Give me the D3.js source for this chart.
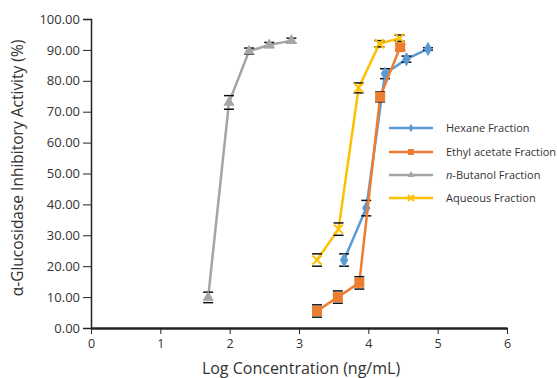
<!DOCTYPE html>
<html><head><meta charset="utf-8">
<script src="https://cdn.jsdelivr.net/npm/d3@7"></script>
<style>body{margin:0;background:#fff}svg{display:block}text{font-family:"Open Sans",sans-serif}</style>
</head><body><svg id="c" width="557" height="378"></svg>
<script>
const seriesNames = ["Hexane Fraction","Ethyl acetate Fraction","n-Butanol Fraction","Aqueous Fraction"];
const colors = ["#5B9BD5","#ED7D31","#A5A5A5","#FFC000"];
const symbols = ["diamond","square","triangle","x"];
const hexaneX = [3.65,3.97,4.24,4.55,4.86];
const hexaneY = [22.0,38.8,82.3,87.0,90.3];
const hexaneErr = [2.0,2.5,1.6,1.0,0.4];
const ethylX = [3.26,3.56,3.87,4.17,4.46];
const ethylY = [5.5,10.0,14.6,74.8,90.9];
const ethylErr = [2.0,2.0,2.0,1.6,1.0];
const butanolX = [1.69,1.99,2.28,2.57,2.89];
const butanolY = [9.9,73.0,89.6,91.6,93.0];
const butanolErr = [1.7,2.2,1.0,0.8,0.8];
const aqueousX = [3.26,3.57,3.86,4.16,4.45];
const aqueousY = [22.0,32.0,77.7,92.0,93.8];
const aqueousErr = [2.0,2.0,1.6,1.0,1.0];
const xTicks = [0,1,2,3,4,5,6];
const yTicks = [0,10,20,30,40,50,60,70,80,90,100];

const series = [
  {x:hexaneX,y:hexaneY,e:hexaneErr},
  {x:ethylX,y:ethylY,e:ethylErr},
  {x:butanolX,y:butanolY,e:butanolErr},
  {x:aqueousX,y:aqueousY,e:aqueousErr}
];

const svg = d3.select("#c");
const x = d3.scaleLinear().domain([0,6]).range([91,507]);
const y = d3.scaleLinear().domain([0,100]).range([328,19]);

// y axis
const ya = svg.append("g").attr("transform","translate(91,0)")
  .call(d3.axisLeft(y).tickValues(yTicks).tickFormat(d3.format(".2f")).tickSize(8).tickPadding(3));
ya.select(".domain").attr("stroke","#222").attr("stroke-width",1.5);
ya.selectAll(".tick line").attr("stroke","#222");
ya.selectAll("text").attr("fill","#333").style("font-size","13px");

// x axis
const xa = svg.append("g").attr("transform","translate(0,328)")
  .call(d3.axisBottom(x).tickValues(xTicks).tickFormat(d3.format("d")).tickSizeInner(6).tickSizeOuter(0).tickPadding(5));
xa.select(".domain").attr("stroke","#222").attr("stroke-width",2.5);
xa.selectAll(".tick line").attr("stroke","#222");
xa.selectAll("text").attr("fill","#333").style("font-size","12.5px");

svg.append("text").attr("x",301).attr("y",374).attr("text-anchor","middle")
  .attr("fill","#333").style("font-size","16px").text("Log Concentration (ng/mL)");
svg.append("text").attr("transform","translate(23,168) rotate(-90)").attr("text-anchor","middle")
  .attr("fill","#333").style("font-size","15.5px").text("α-Glucosidase Inhibitory Activity (%)");

const line = d3.line().x(d=>x(d[0])).y(d=>y(d[1]));

function marker(g, sym, color, size){
  if(sym==="diamond"){
    g.append("path").attr("d",d3.symbol(d3.symbolDiamond, size*size*0.6)()).attr("fill",color);
  } else if(sym==="square"){
    g.append("path").attr("d",d3.symbol(d3.symbolSquare, size*size)()).attr("fill",color);
  } else if(sym==="triangle"){
    g.append("path").attr("d",d3.symbol(d3.symbolTriangle, size*size*0.55)()).attr("fill",color);
  } else {
    const h=size/2;
    g.append("path").attr("d",`M${-h},${-h}L${h},${h}M${-h},${h}L${h},${-h}`)
      .attr("stroke",color).attr("stroke-width",2).attr("fill","none");
  }
}

series.forEach((s,i)=>{
  const pts = s.x.map((v,j)=>[v,s.y[j],s.e[j]]);
  const g = svg.append("g");
  g.append("path").datum(pts).attr("d",line).attr("fill","none")
    .attr("stroke",colors[i]).attr("stroke-width",2.5);
  pts.forEach(p=>{
    const cx=x(p[0]), t=y(p[1]+p[2]), b=y(p[1]-p[2]);
    g.append("line").attr("x1",cx-5).attr("x2",cx+5).attr("y1",t).attr("y2",t).attr("stroke","#111").attr("stroke-width",1.5);
    g.append("line").attr("x1",cx-5).attr("x2",cx+5).attr("y1",b).attr("y2",b).attr("stroke","#111").attr("stroke-width",1.5);
  });
  pts.forEach(p=>{
    const m = g.append("g").attr("transform",`translate(${x(p[0])},${y(p[1])})`);
    marker(m, symbols[i], colors[i], i===3?9:10);
  });
});

// legend
const legY = [128,152,175,198];
seriesNames.forEach((n,i)=>{
  const g = svg.append("g");
  g.append("line").attr("x1",389).attr("x2",433).attr("y1",legY[i]).attr("y2",legY[i])
    .attr("stroke",colors[i]).attr("stroke-width",2.5);
  const m = g.append("g").attr("transform",`translate(411,${legY[i]})`);
  marker(m, symbols[i], colors[i], 6);
  const t = g.append("text").attr("x",446).attr("y",legY[i]+4).attr("fill","#333").style("font-size","11px");
  if(i===2){
    t.append("tspan").attr("font-style","italic").text("n");
    t.append("tspan").text("-Butanol Fraction");
  } else t.text(n);
});
</script></body></html>
